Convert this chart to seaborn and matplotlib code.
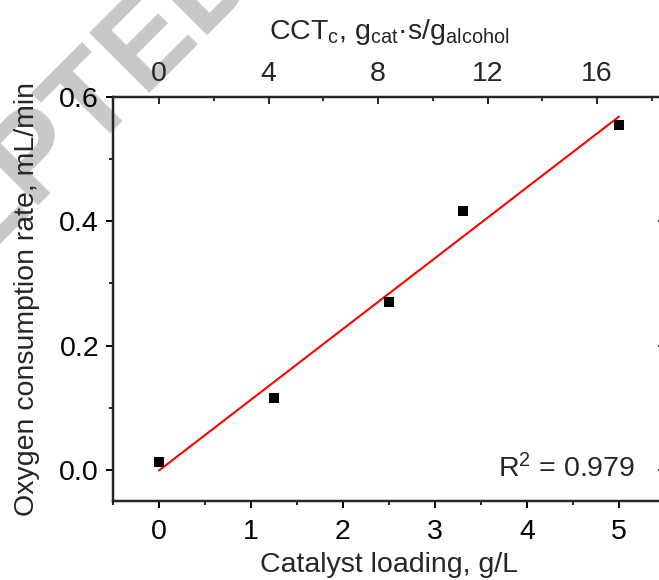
import numpy as np
import pandas as pd
import matplotlib
matplotlib.use("Agg")
import matplotlib.pyplot as plt
import seaborn as sns
from matplotlib.ticker import MultipleLocator

# ---- data ----
catalyst_loading = [0.0, 1.25, 2.5, 3.3, 5.0]          # g/L
oxygen_rate = [0.012, 0.115, 0.270, 0.416, 0.555]       # mL/min
x_ticks = [0, 1, 2, 3, 4, 5]
y_ticks = [0.0, 0.2, 0.4, 0.6]
cct_ticks = [0, 4, 8, 12, 16]
cct_per_loading = 3.36          # CCT_c per g/L of catalyst loading
r2_text = "R$^2$ = 0.979"

sns.set_style("ticks")
plt.rcParams["font.family"] = ["Liberation Sans", "DejaVu Sans"]
plt.rcParams["mathtext.fontset"] = "custom"
plt.rcParams["mathtext.rm"] = "Liberation Sans"
plt.rcParams["mathtext.it"] = "Liberation Sans"
plt.rcParams["mathtext.default"] = "regular"

FS = 20.5
W, H = 659, 580
AX_L, AX_R, AX_T, AX_B = 113, 665, 97, 501
AW, AH = AX_R - AX_L, AX_B - AX_T

df = pd.DataFrame({"loading": catalyst_loading, "rate": oxygen_rate})

fig = plt.figure(figsize=(W / 100, H / 100), dpi=100)
fig.patch.set_facecolor("white")

# watermark (behind everything)
theta = 45
wm_px = (144, 98)
for txt, ha in (("ACCEPT", "right"), ("ED MANUSCRIPT", "left")):
    fig.text(wm_px[0] / W, 1 - wm_px[1] / H, txt, rotation=theta,
             rotation_mode="anchor", ha=ha, va="baseline", fontsize=88,
             fontweight="bold", color="#c8c8c8", zorder=-10)

ax = fig.add_axes([AX_L / W, 1 - AX_B / H, AW / W, AH / H])
ax.patch.set_alpha(0)

sns.regplot(data=df, x="loading", y="rate", ax=ax, ci=None, marker="s",
            scatter_kws=dict(color="black", s=45, linewidths=0, alpha=1,
                             zorder=3),
            line_kws=dict(color="red", lw=1.5, zorder=2))

ax.set_xlim(-0.5, 5.5)
ax.set_ylim(-0.05, 0.6)
ax.set_xticks(x_ticks)
ax.set_yticks(y_ticks)
ax.set_xticklabels([str(t) for t in x_ticks])
ax.set_yticklabels([f"{t:.1f}" for t in y_ticks])
ax.xaxis.set_minor_locator(MultipleLocator(0.5))
ax.yaxis.set_minor_locator(MultipleLocator(0.1))
ax.tick_params(axis="both", which="major", direction="out", length=5, width=1.4,
               labelsize=FS, color="black", labelcolor="black")
ax.tick_params(axis="both", which="minor", direction="out", length=3, width=1.4)
ax.tick_params(axis="x", which="major", pad=8)
ax.tick_params(axis="y", which="major", pad=5)
ax.set_xlabel("Catalyst loading, g/L", fontsize=FS)
ax.set_ylabel("Oxygen consumption rate, mL/min", fontsize=FS)
ax.xaxis.set_label_coords(0.5, -(552 - AX_B) / AH)
ax.yaxis.set_label_coords(-(AX_L - 40) / AW, 0.5)
for s in ax.spines.values():
    s.set_linewidth(1.6)
    s.set_color("black")
    s.set_visible(True)

# top axis (CCT)
ax2 = ax.twiny()
ax2.set_xlim(-0.5 * cct_per_loading, 5.5 * cct_per_loading)
ax2.set_xticks(cct_ticks)
ax2.set_xticklabels([str(t) for t in cct_ticks])
ax2.xaxis.set_minor_locator(MultipleLocator(2))
ax2.tick_params(axis="x", which="major", direction="in", length=5, width=1.4,
                labelsize=FS, pad=7.5)
ax2.tick_params(axis="x", which="minor", direction="in", length=3, width=1.4)
ax2.set_xlabel("CCT$_{c}$, g$_{cat}$·s/g$_{alcohol}$", fontsize=FS)
ax2.xaxis.set_label_coords(0.5, 1 + (AX_T - 39) / AH)
for s in ax2.spines.values():
    s.set_linewidth(1.6)

# right axis ticks (inward, no labels)
ax3 = ax.secondary_yaxis("right")
ax3.set_yticks(y_ticks)
ax3.yaxis.set_minor_locator(MultipleLocator(0.1))
ax3.tick_params(axis="y", which="major", direction="in", length=5, width=1.4,
                labelright=False)
ax3.tick_params(axis="y", which="minor", direction="in", length=3, width=1.4)

ax.text((635 - AX_L) / AW, (AX_B - 477) / AH, r2_text, transform=ax.transAxes,
        ha="right", va="baseline", fontsize=FS)

fig.savefig("out.png", dpi=100, facecolor="white")
